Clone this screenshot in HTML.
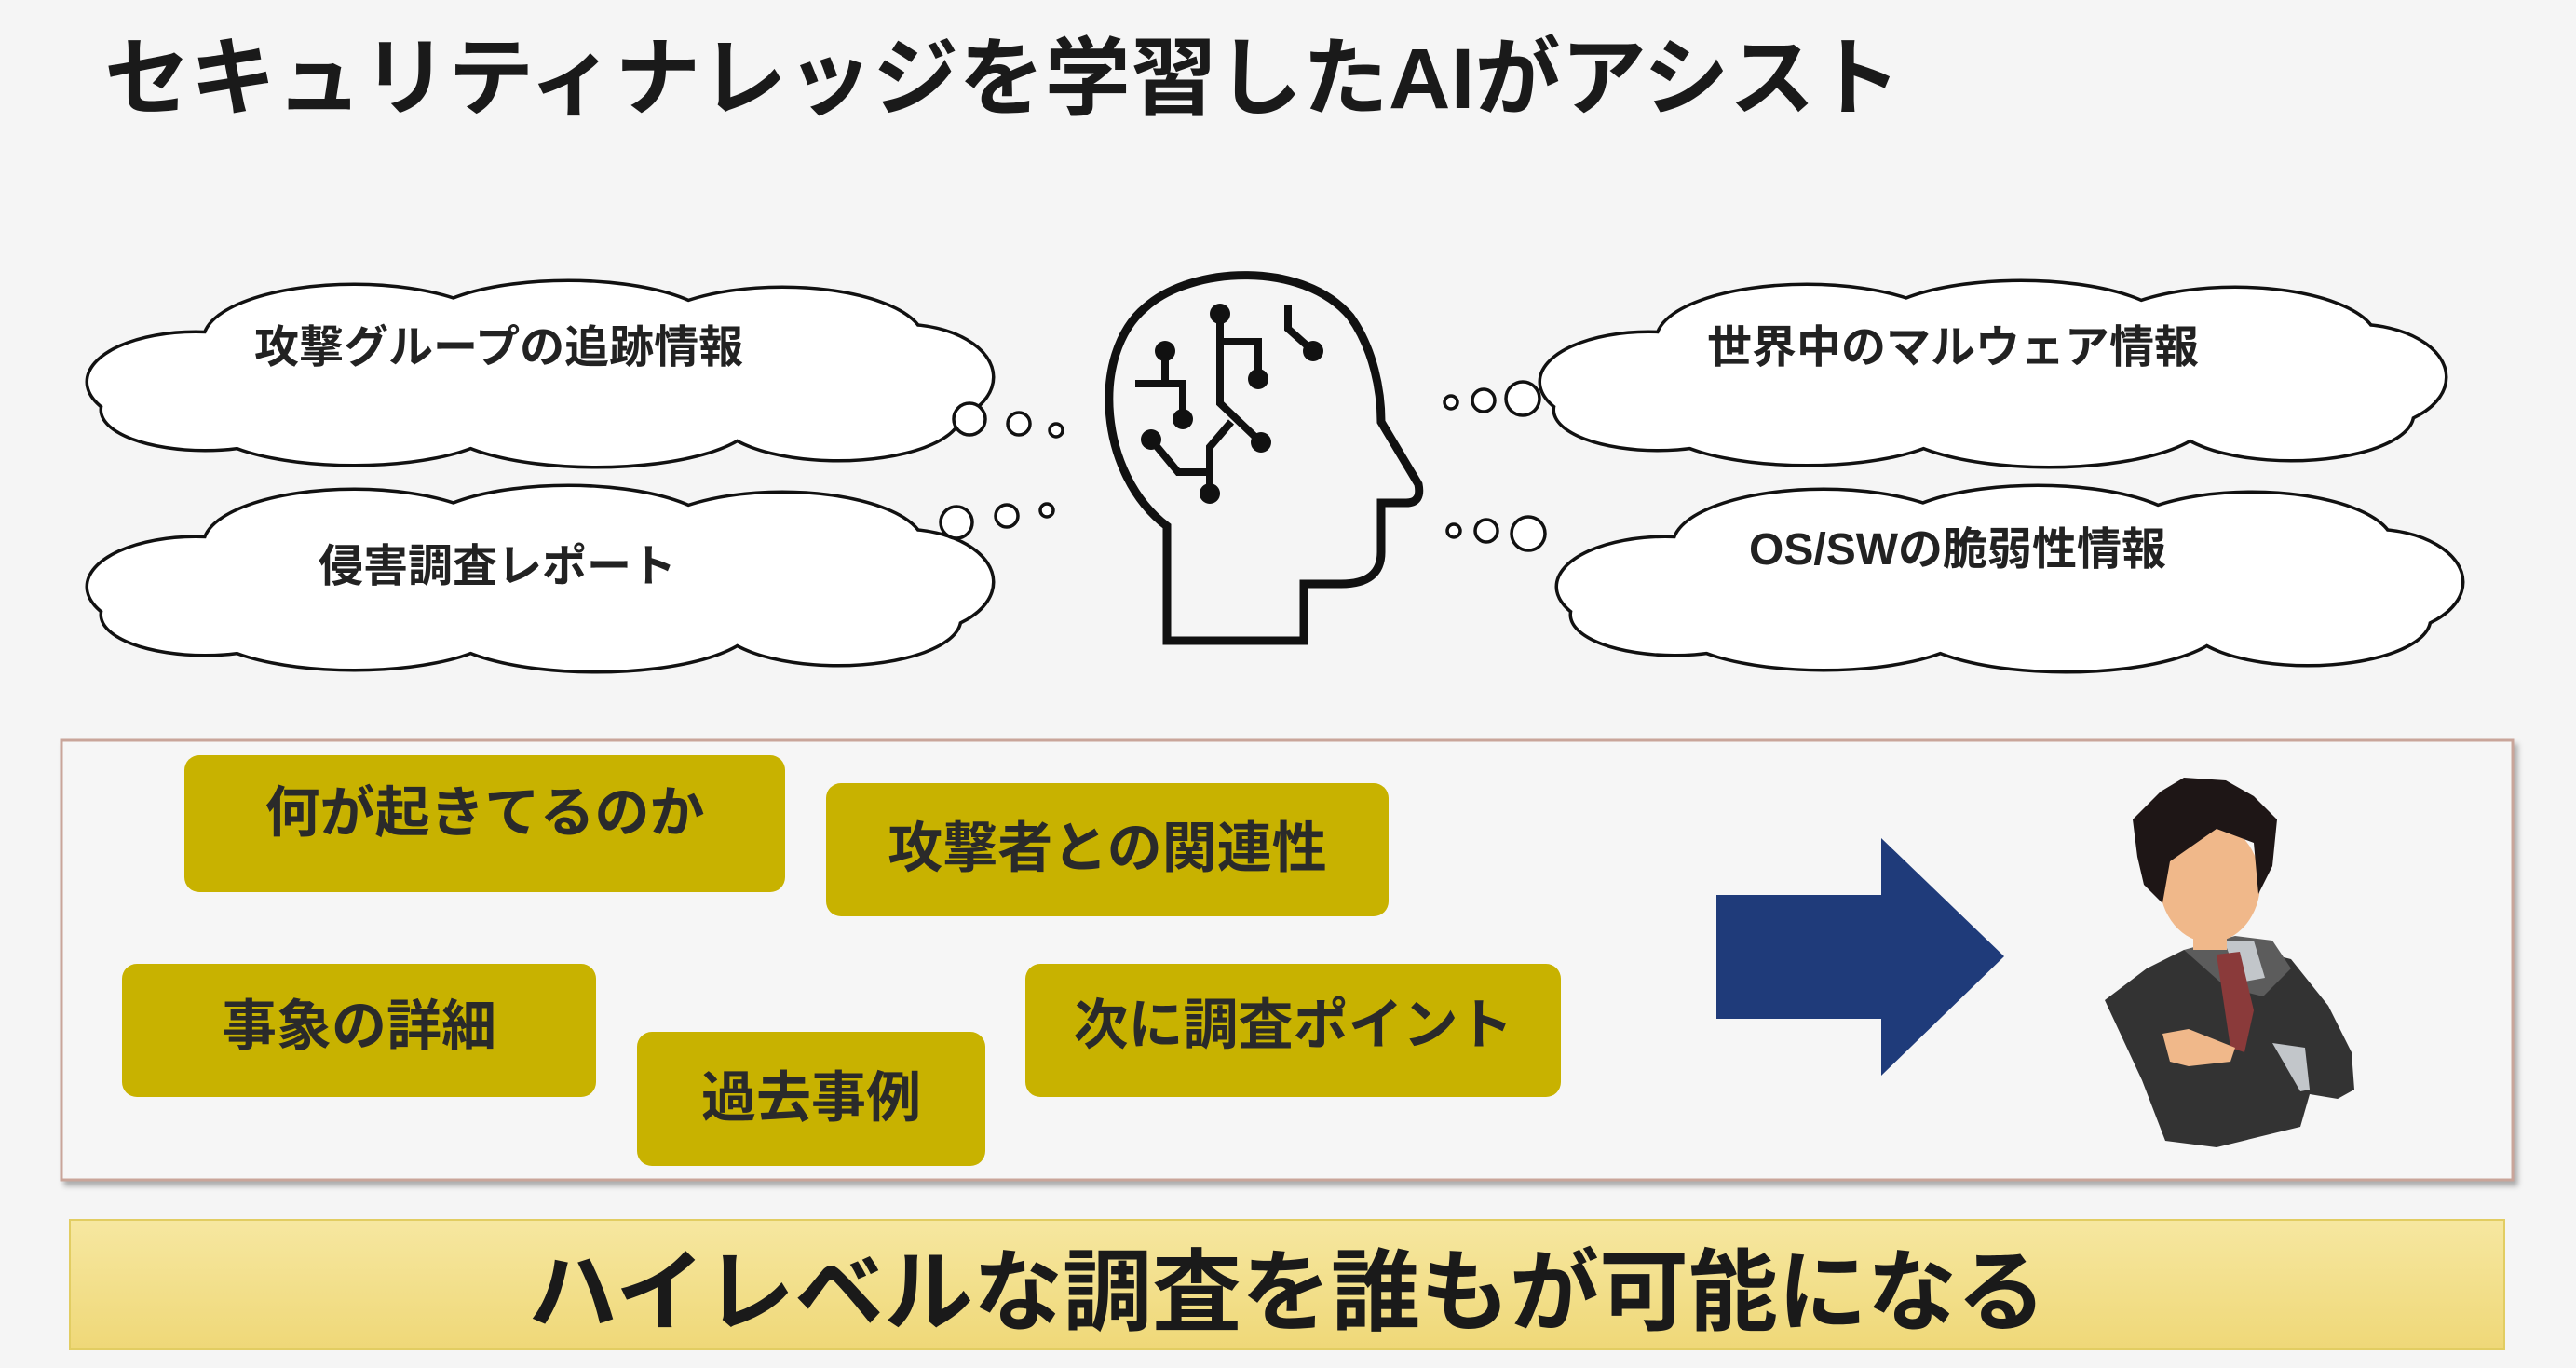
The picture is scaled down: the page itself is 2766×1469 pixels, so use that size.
<!DOCTYPE html>
<html><head><meta charset="utf-8"><style>
html,body{margin:0;padding:0}
body{width:2766px;height:1469px;background:#f5f5f5;position:relative;overflow:hidden;font-family:"Liberation Sans","Noto Sans CJK JP",sans-serif}
.t{position:absolute;white-space:nowrap;font-weight:bold;color:#222}
.pill{position:absolute;background:#c8b200;border-radius:16px;display:flex;align-items:center;justify-content:center;font-weight:bold;font-size:59px;color:#2a2a2a;box-sizing:border-box;font-family:"Liberation Sans","Noto Sans CJK JP",sans-serif}
</style></head><body>
<div class="t" style="left:112px;top:10px;font-size:92px;letter-spacing:0.3px;color:#1a1a1a">セキュリティナレッジを学習したAIがアシスト</div>

<svg width="2766" height="1469" style="position:absolute;left:0;top:0">
<defs>
<g id="cl">
<ellipse cx="130" cy="110" rx="115" ry="52"/>
<ellipse cx="300" cy="65" rx="160" ry="58"/>
<ellipse cx="530" cy="55" rx="160" ry="52"/>
<ellipse cx="760" cy="65" rx="150" ry="55"/>
<ellipse cx="890" cy="105" rx="95" ry="55"/>
<ellipse cx="820" cy="145" rx="130" ry="48"/>
<ellipse cx="560" cy="148" rx="170" ry="52"/>
<ellipse cx="300" cy="150" rx="160" ry="48"/>
<ellipse cx="140" cy="140" rx="110" ry="42"/>
<ellipse cx="490" cy="105" rx="380" ry="70"/>
</g>
<g id="cloud">
<use href="#cl" fill="#fff" stroke="#111" stroke-width="7"/>
<use href="#cl" fill="#fff" stroke="none"/>
</g>
</defs>
<use href="#cloud" transform="translate(80,300)"/>
<use href="#cloud" transform="translate(80,520)"/>
<use href="#cloud" transform="translate(1640,300)"/>
<use href="#cloud" transform="translate(1658,520)"/>
<g fill="#fff" stroke="#111" stroke-width="3.5">
<circle cx="1041" cy="450" r="17"/><circle cx="1094" cy="455" r="12"/><circle cx="1134" cy="462" r="7"/>
<circle cx="1027" cy="561" r="17"/><circle cx="1081" cy="554" r="12"/><circle cx="1124" cy="548" r="7"/>
<circle cx="1558" cy="432" r="7"/><circle cx="1593" cy="430" r="12"/><circle cx="1635" cy="428" r="18"/>
<circle cx="1561" cy="570" r="7"/><circle cx="1596" cy="570" r="12"/><circle cx="1641" cy="573" r="18"/>
</g>
<path d="M1253,688 L1253,565 C1180,510 1170,380 1230,330 C1280,285 1400,280 1450,340 C1475,375 1483,420 1483,453 L1523,520 Q1527,540 1510,540 L1483,540 L1483,593 Q1483,627 1440,627 L1400,627 L1400,688 Z" fill="none" stroke="#111" stroke-width="9" stroke-linejoin="miter"/>
<g stroke="#111" stroke-width="8" fill="none">
<polyline points="1310,337 1310,433 1354,475"/>
<polyline points="1322,453 1299,480 1299,530"/>
<polyline points="1310,367 1351,367 1351,407"/>
<polyline points="1383,328 1383,353 1410,377"/>
<polyline points="1251,377 1251,412"/>
<polyline points="1219,412 1270,412 1270,450"/>
<polyline points="1236,472 1265,507 1299,507"/>
</g>
<g fill="#111">
<circle cx="1310" cy="337" r="11"/><circle cx="1354" cy="475" r="11"/><circle cx="1299" cy="530" r="11"/>
<circle cx="1351" cy="407" r="11"/><circle cx="1410" cy="377" r="11"/><circle cx="1251" cy="377" r="11"/>
<circle cx="1270" cy="450" r="11"/><circle cx="1236" cy="472" r="11"/>
</g>
<rect x="66" y="795" width="2632" height="472" fill="#f6f6f6" stroke="#c9a59a" stroke-width="3" style="filter:drop-shadow(4px 5px 3px rgba(0,0,0,0.3))"/>
<polygon points="1843,961 2020,961 2020,900 2152,1027 2020,1155 2020,1094 1843,1094" fill="#1f3b7a"/>
<!-- person -->
<polygon points="2260,1074 2305,1040 2345,1020 2420,1020 2460,1030 2500,1080 2525,1130 2528,1170 2510,1180 2480,1175 2470,1210 2380,1232 2325,1225 2300,1160" fill="#333"/>
<polygon points="2345,1020 2400,1005 2440,1010 2460,1040 2430,1070 2390,1060" fill="#5c5c5c"/>
<polygon points="2388,1010 2420,1010 2432,1050 2405,1055" fill="#c2c6ca"/>
<polygon points="2380,1025 2405,1022 2420,1085 2410,1130 2395,1125" fill="#8a3a3a"/>
<polygon points="2322,1110 2350,1105 2400,1125 2395,1140 2350,1145 2330,1140" fill="#f0b88a"/>
<polygon points="2440,1120 2475,1125 2480,1170 2470,1172" fill="#c2c6ca"/>
<ellipse cx="2373" cy="948" rx="54" ry="64" fill="#f0b88a"/>
<rect x="2355" y="990" width="36" height="30" fill="#f0b88a"/>
<polygon points="2290,880 2320,850 2345,835 2390,838 2420,855 2445,880 2440,930 2425,960 2420,905 2380,890 2330,925 2322,970 2302,950 2295,920" fill="#1e1616"/>
</svg>

<div class="t" style="left:273px;top:333px;font-size:48px">攻撃グループの追跡情報</div>
<div class="t" style="left:342px;top:568px;font-size:48px">侵害調査レポート</div>
<div class="t" style="left:1833px;top:333px;font-size:48px">世界中のマルウェア情報</div>
<div class="t" style="left:1878px;top:550px;font-size:48px">OS/SWの脆弱性情報</div>

<div class="pill" style="left:198px;top:811px;width:645px;height:147px;padding-bottom:34px">何が起きてるのか</div>
<div class="pill" style="left:887px;top:841px;width:604px;height:143px;padding-bottom:14px">攻撃者との関連性</div>
<div class="pill" style="left:131px;top:1035px;width:509px;height:143px;padding-bottom:20px">事象の詳細</div>
<div class="pill" style="left:684px;top:1108px;width:374px;height:144px;padding-bottom:14px">過去事例</div>
<div class="pill" style="left:1101px;top:1035px;width:575px;height:143px;padding-bottom:22px">次に調査ポイント</div>

<div style="position:absolute;left:74px;top:1309px;width:2616px;height:141px;background:linear-gradient(#f6e7a0,#efd878);border:2px solid #e2cd62;box-sizing:border-box"></div>
<div class="t" style="left:74px;width:2616px;text-align:center;top:1310px;font-size:96px;color:#1a1a1a">ハイレベルな調査を誰もが可能になる</div>
</body></html>
